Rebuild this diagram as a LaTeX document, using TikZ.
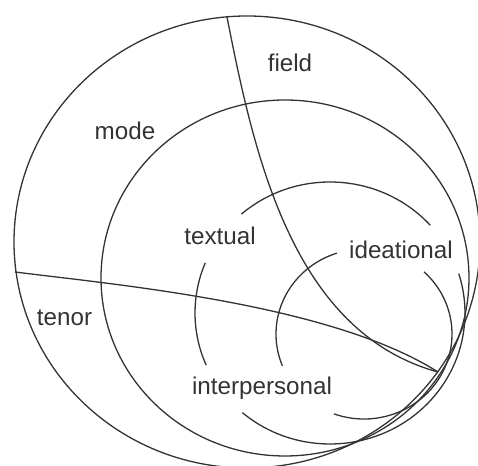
\documentclass[tikz,border=0pt]{standalone}
\usepackage{fontspec}
\setsansfont{Liberation Sans}

\tikzset{
  rim/.style={line width=0.65pt, draw=black!80},
  lab/.style={font=\sffamily\fontsize{12.1}{14}\selectfont, text=black!80, inner sep=0pt},
}

\begin{document}
\begin{tikzpicture}[x=0.5pt, y=0.5pt]
    \useasboundingbox (0,0) rectangle (478,466);
    \clip (0,0) rectangle (478,466);

    \coordinate (tip) at (438,94);
    \coordinate (ct) at (330,153);
    \coordinate (ci) at (364,132);

    % context and language
    \draw[rim] (247,224) ellipse [x radius=233, y radius=226];
    \draw[rim] (285,188) ellipse [x radius=184, y radius=178];

    % field and tenor boundaries
    \draw[rim] (227,449) .. controls (254,312) and (292,134) .. (tip);
    \draw[rim] (15,194) .. controls (118,181) and (331,162) .. (tip);

    % textual ring, broken at the labels
    \draw[rim] (ct) ++(42:135 and 131) arc[start angle=42, end angle=131, x radius=135, y radius=131];
    \draw[rim] (ct) ++(157.5:135 and 131) arc[start angle=157.5, end angle=203.5, x radius=135, y radius=131];
    \draw[rim] (ct) ++(229.5:135 and 131) arc[start angle=229.5, end angle=377.5, x radius=135, y radius=131];

    % ideational ring
    \draw[rim] (ci) ++(108:88 and 85) arc[start angle=108, end angle=202, x radius=88, y radius=85];
    \draw[rim] (ci) ++(250:88 and 85) arc[start angle=250, end angle=407, x radius=88, y radius=85];

    \node[lab] (field) at (290,403) {field};
    \node[lab] (mode) at (125,335.5) {mode};
    \node[lab] (tenor) at (64.5,148) {tenor};
    \node[lab] (textual) at (220,230) {textual};
    \node[lab] (ideational) at (401,216) {ideational};
    \node[lab] (interp) at (262,77.5) {interpersonal};
  \end{tikzpicture}
\end{document}
